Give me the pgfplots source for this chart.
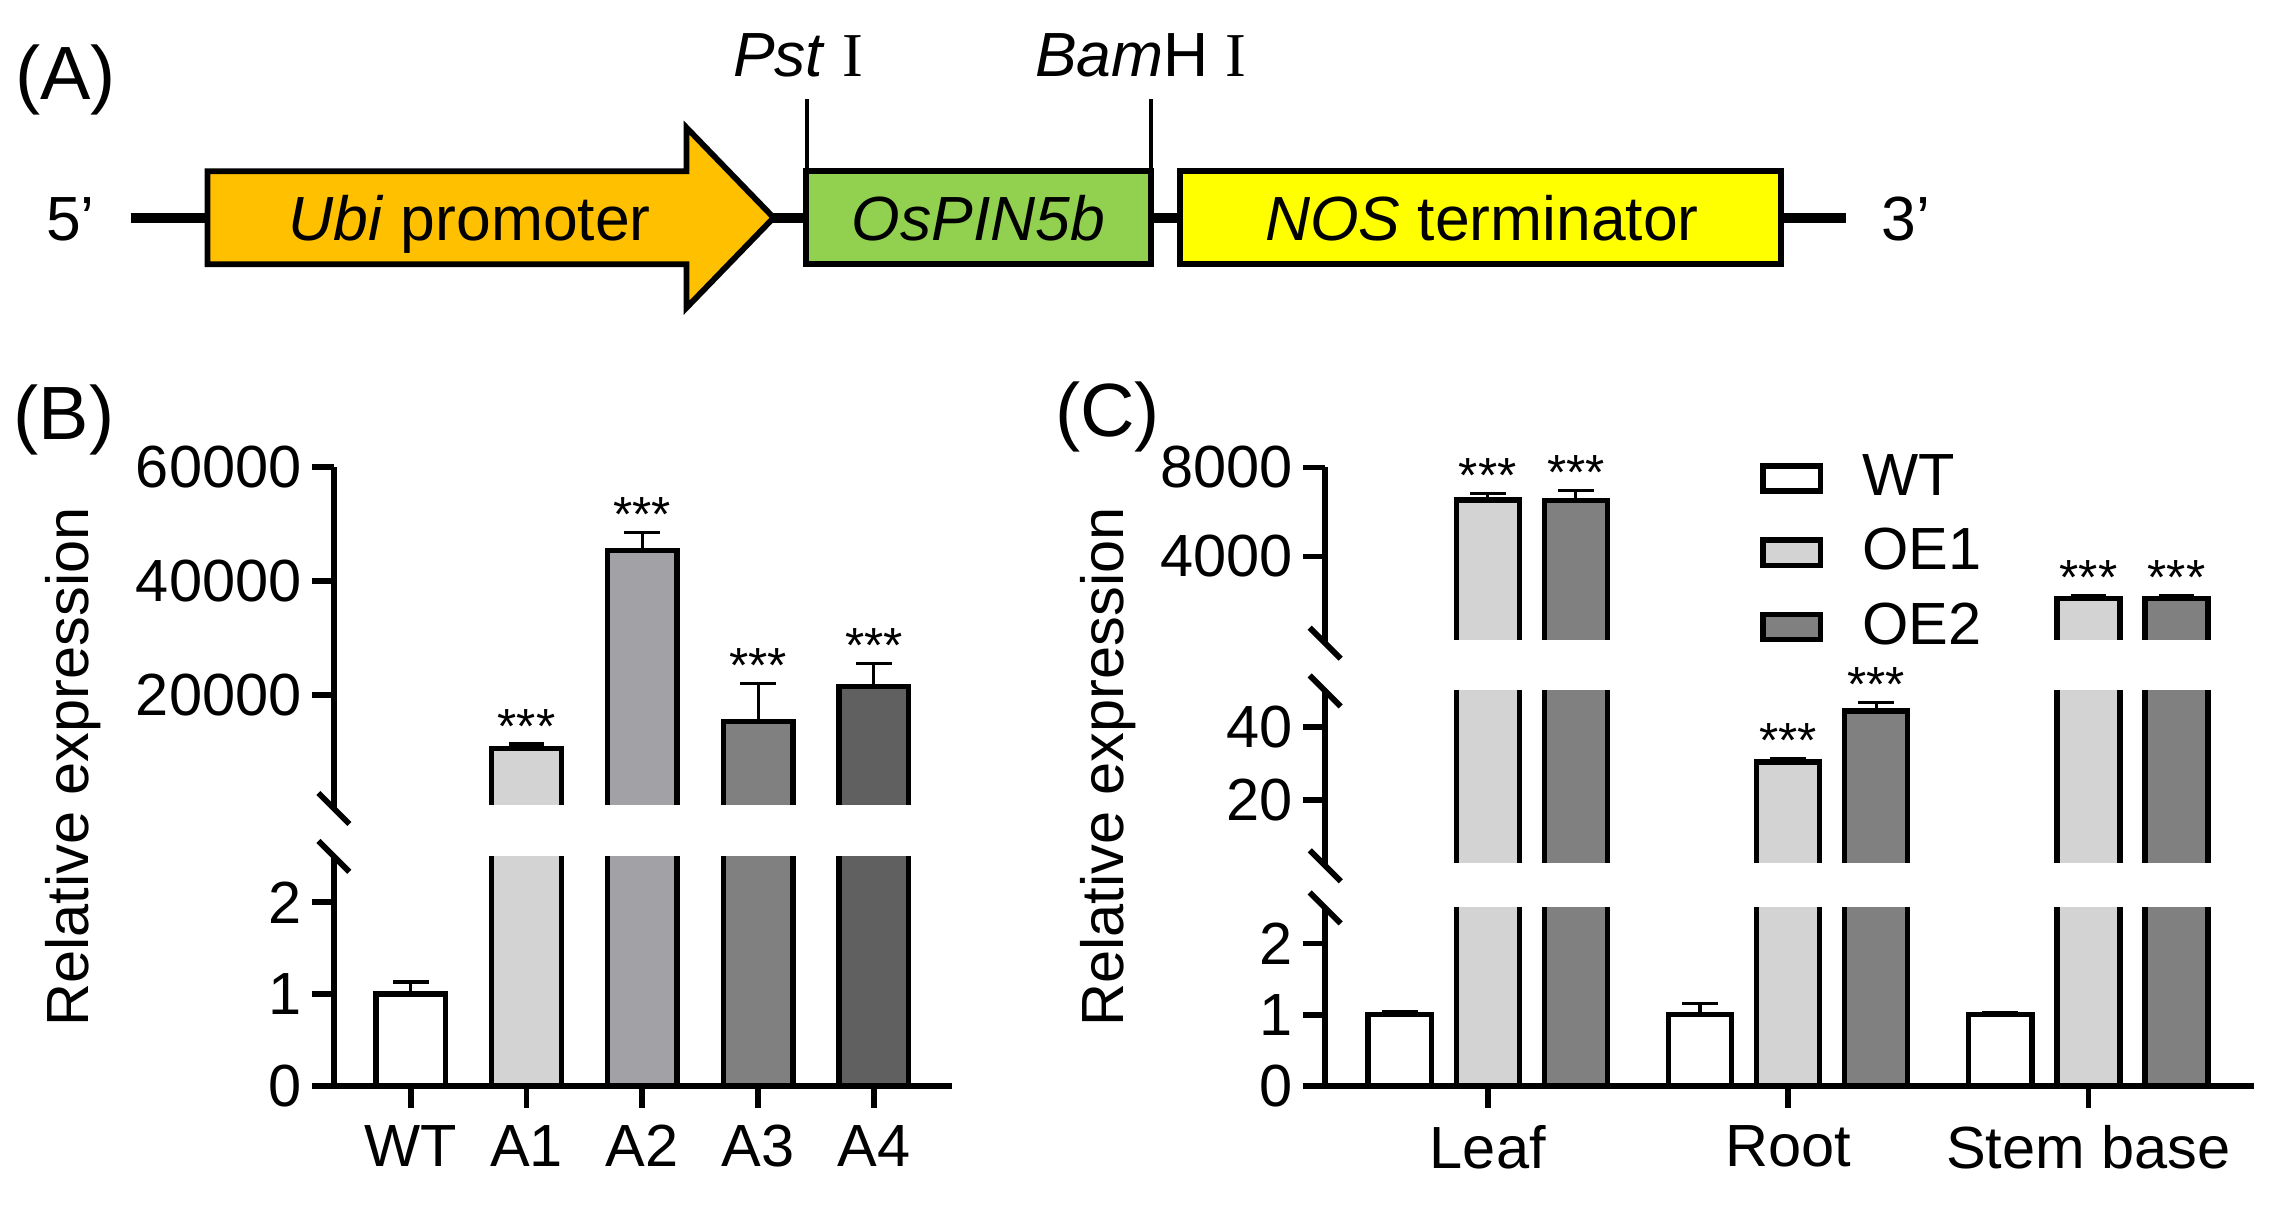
\documentclass[border=0pt]{standalone}
\usepackage{fontspec}
\setmainfont{Liberation Sans}
\newfontfamily\romfont{Liberation Serif}
\usepackage{pgfplots}
\pgfplotsset{compat=1.18}

\definecolor{gA1}{RGB}{211,211,211}
\definecolor{gA2}{RGB}{161,161,166}
\definecolor{gA3}{RGB}{128,128,128}
\definecolor{gA4}{RGB}{96,96,96}
\definecolor{ubiorange}{RGB}{255,192,0}
\definecolor{pingreen}{RGB}{146,208,80}
\definecolor{nosyellow}{RGB}{255,255,0}

\newcommand\lbl{\fontsize{12.3pt}{14pt}\selectfont}
\newcommand\sig{\fontsize{10.2pt}{12pt}\selectfont}
\newcommand\pan{\fontsize{15.6pt}{18pt}\selectfont}
\newcommand\dia{\fontsize{12.9pt}{15pt}\selectfont}

\pgfplotsset{
  seg/.style={
    scale only axis, anchor=south west,
    axis y line*=left,
    axis line style={-, line width=1.2pt},
    tick align=outside, major tick length=4.5pt,
    tick style={line width=1.2pt, black},
    ytick pos=left,
    ticklabel style={font=\lbl},
    yticklabel style={inner sep=2pt},
    xticklabel style={inner sep=3.5pt},
    scaled y ticks=false,
  },
  % upper pieces: no x axis, hide the bar base at the cut, slash at the bottom end
  segtop/.style={hide x axis,
    after end axis/.append code={
      \fill[white] ([xshift=0.61pt,yshift=-1.5pt]rel axis cs:0,0) rectangle ([yshift=0.65pt]rel axis cs:1,0);
      \draw[line width=1.2pt] (rel axis cs:0,0) ++(-3.2pt,3.2pt) -- ++(6.4pt,-6.4pt);}},
  segbot/.style={axis x line*=bottom, xtick pos=bottom},
  segcut/.style={after end axis/.append code={\draw[line width=1.2pt] (rel axis cs:0,1) ++(-3.2pt,3.2pt) -- ++(6.4pt,-6.4pt);}},
  bx/.style={ybar, fill=#1, draw=black, line width=1.1pt},
  eb/.style={ybar, draw=none, fill=none, forget plot,
    /pgfplots/error bars/y dir=plus, /pgfplots/error bars/y explicit,
    /pgfplots/error bars/error bar style={draw=black, line width=0.65pt},
    /pgfplots/error bars/error mark options={draw=black, line width=0.65pt, mark size=3.7pt, rotate=90}},
  sg/.style={ybar, draw=none, fill=none, forget plot,
    nodes near coords={***},
    nodes near coords style={font=\sig, text=black, inner sep=0pt, anchor=south}},
  lg/.style={legend image code/.code={\draw[fill=#1, draw=black, line width=1.1pt] (0pt,-2.6pt) rectangle (11.9pt,2.6pt);}},
}

\begin{document}
\begin{tikzpicture}[x=0.3pt,y=0.3pt]
\path[use as bounding box] (0,0) rectangle (1568,830);

% (A) construct
\draw[line width=2.1pt] (90,680) -- (1272,680);
\draw[fill=ubiorange, line width=1.2pt, line join=miter] (143,712) -- (473,712) -- (473,742) -- (533,680) -- (473,618) -- (473,648) -- (143,648) -- cycle;
\draw[fill=pingreen, line width=1.2pt] (555,648) rectangle (793,712);
\draw[fill=nosyellow, line width=1.2pt] (813,648) rectangle (1227,712);
\draw[line width=0.75pt] (556,712) -- (556,762);
\draw[line width=0.75pt] (793,712) -- (793,762);
\node[font=\dia, anchor=base] at (323.5,664.6) {\textit{Ubi} promoter};
\node[font=\dia, anchor=base] at (674,664.6) {\textit{OsPIN5b}};
\node[font=\dia, anchor=base] at (1021,664.6) {\textit{NOS} terminator};
\node[font=\dia, anchor=base] at (48.5,664.6) {5’};
\node[font=\dia, anchor=base] at (1313,664.6) {3’};
\node[font=\dia, anchor=base] at (550,777) {\textit{Pst} {\romfont I}};
\node[font=\dia, anchor=base] at (786,777) {\textit{Bam}H {\romfont I}};

\node[font=\pan] at (45,775) {(A)};
\node[font=\pan] at (44,541) {(B)};
\node[font=\pan] at (763,543) {(C)};
\node[font=\lbl, rotate=90, anchor=base] at (61,301.5) {Relative expression};
\node[font=\lbl, rotate=90, anchor=base] at (774,301.5) {Relative expression};

% (B) lower piece
\begin{axis}[seg, segbot, segcut, at={(69pt,24.6pt)}, width=127.8pt, height=47.4pt,
  xmin=-0.6646, xmax=4.677, ymin=0, ymax=2.5, bar width=14.4pt,
  restrict y to domain*=0:3,
  ytick={0,1,2}, yticklabels={0,1,2},
  xtick={0,1,2,3,4}, xticklabels={WT,A1,A2,A3,A4}]
  \addplot[bx=white] coordinates {(0,1.00)};
  \addplot[bx=gA1] coordinates {(1,10600)};
  \addplot[bx=gA2] coordinates {(2,45400)};
  \addplot[bx=gA3] coordinates {(3,15450)};
  \addplot[bx=gA4] coordinates {(4,21600)};
  \addplot[eb] coordinates {(0,1.00) +- (0,0.13)};
\end{axis}

% (B) upper piece
\begin{axis}[seg, segtop, at={(69pt,81.9pt)}, width=127.8pt, height=70.5pt,
  xmin=-0.6646, xmax=4.677, ymin=130, ymax=60000, bar width=14.4pt,
  ytick={20000,40000,60000}, yticklabels={20000,40000,60000}]
  \addplot[bx=gA1] coordinates {(1,10600)};
  \addplot[bx=gA2] coordinates {(2,45400)};
  \addplot[bx=gA3] coordinates {(3,15450)};
  \addplot[bx=gA4] coordinates {(4,21600)};
  \addplot[eb] coordinates {(1,10600) +- (0,850) (2,45400) +- (0,3200) (3,15450) +- (0,6650) (4,21600) +- (0,3950)};
  \addplot[sg] coordinates {(1,11450) (2,48600) (3,22100) (4,25550)};
\end{axis}

% (C) lower piece
\begin{axis}[seg, segbot, segcut, at={(273.9pt,24.6pt)}, width=192pt, height=36.75pt,
  xmin=-0.5413, xmax=2.552, ymin=0, ymax=2.5, bar width=13.05pt,
  restrict y to domain*=0:3,
  ytick={0,1,2}, yticklabels={0,1,2},
  xtick={0,1,2}, xticklabels={Leaf,Root,Stem base}]
  \addplot[bx=white, bar shift=-18.21pt] coordinates {(0,1.00) (1,1.00) (2,1.00)};
  \addplot[bx=gA1] coordinates {(0,6530) (1,30.5) (2,2120)};
  \addplot[bx=gA3, bar shift=18.21pt] coordinates {(0,6500) (1,44.5) (2,2120)};
  \addplot[eb] coordinates {(-0.2934,1.00) +- (0,0.04) (0.7066,1.00) +- (0,0.16) (1.7066,1.00) +- (0,0.03)};
\end{axis}

% (C) middle piece
\begin{axis}[seg, segtop, segcut, at={(273.9pt,70.05pt)}, width=192pt, height=36.15pt,
  xmin=-0.5413, xmax=2.552, ymin=2, ymax=50, bar width=13.05pt,
  restrict y to domain*=0:60,
  ytick={20,40}, yticklabels={20,40}]
  \addplot[bx=gA1] coordinates {(0,6530) (1,30.5) (2,2120)};
  \addplot[bx=gA3, bar shift=18.21pt] coordinates {(0,6500) (1,44.5) (2,2120)};
  \addplot[eb] coordinates {(1,30.5) +- (0,1.0) (1.2934,44.5) +- (0,2.3)};
  \addplot[sg] coordinates {(1,31.5) (1.2934,46.8)};
\end{axis}

% (C) upper piece
\begin{axis}[seg, segtop, at={(273.9pt,116.07pt)}, width=192pt, height=36.32pt,
  xmin=-0.5413, xmax=2.552, ymin=100, ymax=8000, bar width=13.05pt,
  ytick={4000,8000}, yticklabels={4000,8000},
  legend cell align=left,
  legend style={draw=none, fill=none, at={(0.4683,1.0744)}, anchor=north west,
    inner sep=0pt, outer sep=0pt, row sep=5.3pt, font=\lbl,
    nodes={inner sep=0pt},
    /tikz/every odd column/.append style={column sep=8.1pt}}]
  \addplot[bx=white, bar shift=-18.21pt, lg=white] coordinates {(0,1.00) (1,1.00) (2,1.00)};
  \addlegendentry{WT}
  \addplot[bx=gA1, lg=gA1] coordinates {(0,6530) (1,30.5) (2,2120)};
  \addlegendentry{OE1}
  \addplot[bx=gA3, bar shift=18.21pt, lg=gA3] coordinates {(0,6500) (1,44.5) (2,2120)};
  \addlegendentry{OE2}
  \addplot[eb] coordinates {(0,6530) +- (0,300) (2,2120) +- (0,140) (0.2934,6500) +- (0,450) (2.2934,2120) +- (0,140)};
  \addplot[sg] coordinates {(0,6830) (2,2260) (0.2934,6950) (2.2934,2260)};
\end{axis}
\end{tikzpicture}
\end{document}
